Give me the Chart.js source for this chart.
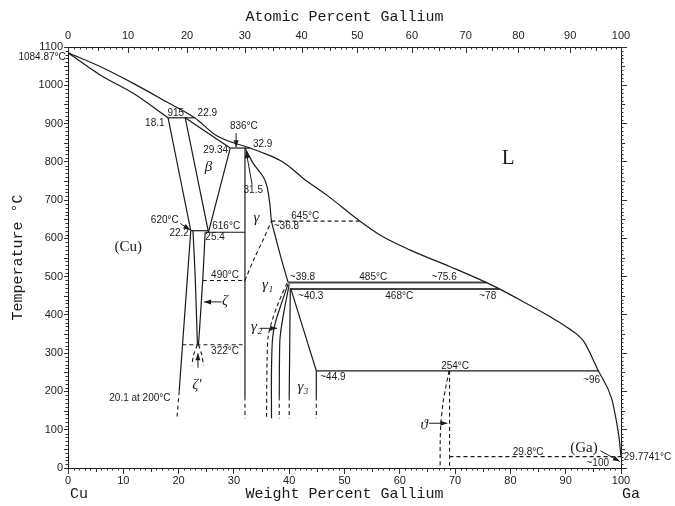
<!DOCTYPE html>
<html>
<head>
<meta charset="utf-8">
<script src="https://cdn.jsdelivr.net/npm/chart.js@4.4.0/dist/chart.umd.min.js"></script>
<style>
  html, body { margin: 0; padding: 0; background: #fff; }
  #wrap { width: 675px; height: 506px; }
</style>
</head>
<body>
<div id="wrap"><canvas id="chart" width="675" height="506"></canvas></div>
<script>
// compositions in wt.% Ga, temperatures in °C
const weightTicks = [0, 10, 20, 30, 40, 50, 60, 70, 80, 90, 100];
const atomicTicks = [0, 10, 20, 30, 40, 50, 60, 70, 80, 90, 100];
const tempTicks = [0, 100, 200, 300, 400, 500, 600, 700, 800, 900, 1000, 1100];

// solid boundaries
const liquidus = [[0,1084.87],[5.8,1049],[11.8,1005],[17.8,957],[22.9,915],[26.9,868],[32.9,836],[35.5,822],[38.3,804],[40.5,782],[42.5,757],[46.8,713],[52.8,645],[56.4,609],[61.8,570],[69.1,526],[75.6,485],[78,468],[82,437],[87.2,395],[90.5,365],[93.2,332],[95.9,254],[98.3,182],[98.9,143],[99.7,73],[100,29.77]];
const cuSolidus = [[0,1084.87],[5.8,1027],[11.8,979],[18.1,915]];
const line915 = [[18.1,915],[22.9,915]];
const cuBetaSolvus = [[18.1,915],[22.2,620]];
const betaLeft = [[21.2,915],[25.4,616]];
const betaSolidus = [[21.2,915],[29.34,836]];
const betaRight = [[29.34,836],[25.4,616]];
const line836 = [[29.34,836],[32.9,836]];
const gammaLeft = [[32,836],[32,186]];
const gammaRight = [[32,836],[33.5,796],[35.3,761],[36.0,735],[36.5,690],[36.8,645],[37.6,600],[38.6,545],[39.8,485]];
const line620 = [[22.2,620],[25.3,620]];
const line616 = [[24.8,616],[32,616]];
const cuSolvus = [[22.2,620],[20.1,200]];
const zetaLeft = [[22.6,620],[23.0,500],[23.4,322]];
const zetaRight = [[24.8,616],[24.4,500],[23.6,322]];
const line485 = [[39.8,485],[75.6,485]];
const line468 = [[40.3,468],[78,468]];
const gamma1Solid = [[39.8,481],[38.6,430],[37.5,380],[37.0,340],[36.8,260],[36.8,130]];
const gamma2Right = [[40.0,480],[39.2,420],[38.6,370],[38.3,330],[38.2,186]];
const gammaVert40 = [[40.2,470],[40.0,186]];
const gamma3Right = [[40.3,468],[44.9,254]];
const gamma3Vert = [[44.9,254],[44.9,186]];
const line254 = [[44.9,254],[96,254]];

// dashed boundaries
const cuSolvusLow = [[20.1,200],[19.7,130]];
const gammaLeftLow = [[32,186],[32,130]];
const line490 = [[24.4,490],[32,490]];
const gammaOrder = [[32,490],[33.6,545],[35.4,600],[36.8,645]];
const line645 = [[36.8,645],[52.8,645]];
const line322 = [[20.7,322],[32,322]];
const zetaPrimeL = [[23.4,322],[22.7,295],[22.4,268]];
const zetaPrimeR = [[23.6,322],[24.2,295],[24.5,268]];
const gamma12Dash = [[39.6,483],[38.0,430],[36.8,380],[36.2,343],[36.0,280],[35.9,130]];
const gamma2Low = [[38.2,186],[38.2,130]];
const vert40Low = [[40.0,186],[40.0,130]];
const gamma3Low = [[44.9,186],[44.9,130]];
const thetaLeft = [[68.9,254],[68.3,210],[67.8,169],[67.4,110],[67.3,60],[67.3,0]];
const thetaRight = [[69,254],[69,0]];
const line298 = [[69,29.8],[100,29.8]];

const smoothLines = [liquidus, cuSolidus];
const solidLines = [line915, cuBetaSolvus, betaLeft, betaSolidus, betaRight, line836,
  gammaLeft, gammaRight, line620, line616, cuSolvus, zetaLeft, zetaRight, gamma1Solid, gamma2Right,
  gammaVert40, gamma3Right, gamma3Vert, line254];
const boldLines = [line485, line468];
const dashedLines = [cuSolvusLow, gammaLeftLow, line490, gammaOrder, line645, line322, zetaPrimeL, zetaPrimeR,
  gamma12Dash, gamma2Low, vert40Low, gamma3Low, thetaLeft, thetaRight, line298];

// text notes: text, wt.%, °C, kind
const notes = [
  ['1084.87°C', -0.4, 1074, 'numR'],
  ['915', 19.5, 927, 'num'], ['22.9', 25.2, 927, 'num'], ['18.1', 15.7, 901, 'num'],
  ['836°C', 31.8, 892, 'num'], ['29.34', 26.7, 829, 'num'], ['32.9', 35.2, 847, 'num'],
  ['31.5', 33.5, 726, 'num'], ['645°C', 42.9, 657, 'num'], ['~36.8', 39.5, 631, 'num'],
  ['620°C', 17.5, 648, 'num'], ['22.2', 20.1, 613, 'num'], ['616°C', 28.6, 631, 'num'],
  ['25.4', 26.6, 604, 'num'], ['490°C', 28.4, 504, 'num'], ['~39.8', 42.4, 498, 'num'],
  ['485°C', 55.2, 498, 'num'], ['~75.6', 68.0, 498, 'num'], ['~40.3', 43.9, 448, 'num'],
  ['468°C', 59.9, 449, 'num'], ['~78', 75.9, 449, 'num'], ['322°C', 28.4, 306, 'num'],
  ['20.1 at 200°C', 13.0, 182, 'num'], ['~44.9', 47.9, 237, 'num'], ['254°C', 70.0, 266, 'num'],
  ['~96', 94.7, 230, 'num'], ['29.8°C', 83.2, 40, 'num'], ['~100', 95.8, 12, 'num'],
  ['29.7741°C', 100.5, 29, 'numL'],
  ['β', 25.4, 787, 'greek'], ['γ', 34.1, 652, 'greek'], ['γ₁', 36.1, 478, 'greek'],
  ['ζ', 28.4, 435, 'greek'], ['γ₂', 34.1, 369, 'greek'], ["ζ'", 23.3, 217, 'greek'],
  ['γ₃', 42.5, 212, 'greek'], ['ϑ', 64.4, 112, 'greek'],
  ['(Cu)', 10.9, 578, 'phase'], ['(Ga)', 93.3, 51, 'phase'], ['L', 79.6, 810, 'big']
];

// arrows: from (wt, °C) to (wt, °C)
const arrows = [
  [30.4, 875, 30.4, 838], [33.3, 740, 32.2, 828], [20.3, 639, 22.1, 622],
  [27.8, 434, 24.6, 434], [23.5, 262, 23.5, 300], [34.8, 365, 37.8, 365],
  [65.3, 117, 68.6, 117], [96.3, 45, 99.8, 17]
];

const atToWt = a => 100 * a * 69.723 / (a * 69.723 + (100 - a) * 63.546);

const ink = '#1a1a1a';
const toPoints = pts => pts.map(p => ({ x: p[0], y: p[1] }));
const datasets = [];
smoothLines.forEach(pts => datasets.push({ data: toPoints(pts), borderWidth: 1.2, cubicInterpolationMode: 'monotone' }));
solidLines.forEach(pts => datasets.push({ data: toPoints(pts), borderWidth: 1.2, tension: 0.3 }));
boldLines.forEach(pts => datasets.push({ data: toPoints(pts), borderWidth: 2, borderColor: '#444', tension: 0 }));
dashedLines.forEach(pts => datasets.push({ data: toPoints(pts), borderWidth: 1.1, borderDash: [4, 3], tension: 0.3 }));
datasets.forEach(d => {
  d.showLine = true;
  d.pointRadius = 0;
  d.borderColor = d.borderColor || ink;
  d.xAxisID = 'x';
  d.yAxisID = 'y';
});

const tickMarks = {
  id: 'tickMarks',
  afterDraw(chart) {
    const { ctx, chartArea: a, scales } = chart;
    const x = scales.x, y = scales.y;
    ctx.save();
    ctx.strokeStyle = '#333';
    ctx.lineWidth = 1;
    ctx.beginPath();
    for (let v = 0; v <= 100; v++) {
      if (v % 10 === 0) continue;
      const px = Math.round(x.getPixelForValue(v)) + 0.5;
      const len = v % 5 === 0 ? 4 : 2.5;
      ctx.moveTo(px, a.bottom); ctx.lineTo(px, a.bottom + len);
    }
    for (let at = 0; at <= 100; at++) {
      const px = Math.round(x.getPixelForValue(atToWt(at))) + 0.5;
      const len = at % 10 === 0 ? 6 : (at % 5 === 0 ? 4 : 2.5);
      ctx.moveTo(px, a.top); ctx.lineTo(px, a.top + len);
    }
    for (let t = 10; t < 1100; t += 10) {
      if (t % 100 === 0) continue;
      const py = Math.round(y.getPixelForValue(t)) + 0.5;
      const len = t % 50 === 0 ? 4 : 2.5;
      ctx.moveTo(a.left, py); ctx.lineTo(a.left - len, py);
      ctx.moveTo(a.right, py); ctx.lineTo(a.right + len, py);
    }
    ctx.stroke();
    ctx.restore();
  }
};

const annotations = {
  id: 'annotations',
  afterDatasetsDraw(chart) {
    const { ctx, scales } = chart;
    const x = scales.x, y = scales.y;
    ctx.save();
    ctx.fillStyle = ink;
    ctx.strokeStyle = ink;
    ctx.textBaseline = 'middle';
    notes.forEach(([text, wx, t, kind]) => {
      let font = '10px "Liberation Sans"', align = 'center';
      if (kind === 'numR') align = 'right';
      if (kind === 'numL') align = 'left';
      if (kind === 'greek') font = 'italic 15px "Liberation Serif"';
      if (kind === 'phase') font = '15px "Liberation Serif"';
      if (kind === 'big') font = '21px "Liberation Serif"';
      ctx.font = font;
      ctx.textAlign = align;
      ctx.fillText(text, x.getPixelForValue(wx), y.getPixelForValue(t));
    });
    ctx.lineWidth = 1;
    arrows.forEach(([x1, t1, x2, t2]) => {
      const ax = x.getPixelForValue(x1), ay = y.getPixelForValue(t1);
      const bx = x.getPixelForValue(x2), by = y.getPixelForValue(t2);
      const ang = Math.atan2(by - ay, bx - ax);
      ctx.beginPath();
      ctx.moveTo(ax, ay); ctx.lineTo(bx, by);
      ctx.stroke();
      ctx.beginPath();
      ctx.moveTo(bx, by);
      ctx.lineTo(bx - 7 * Math.cos(ang) + 2.5 * Math.sin(ang), by - 7 * Math.sin(ang) - 2.5 * Math.cos(ang));
      ctx.lineTo(bx - 7 * Math.cos(ang) - 2.5 * Math.sin(ang), by - 7 * Math.sin(ang) + 2.5 * Math.cos(ang));
      ctx.closePath();
      ctx.fill();
    });
    // element symbols under the axis ends
    ctx.font = '15px "Liberation Mono"';
    ctx.textAlign = 'left';
    ctx.fillText('Cu', x.getPixelForValue(0) + 2, 494);
    ctx.fillText('Ga', x.getPixelForValue(100) + 1, 494);
    ctx.restore();
  }
};

const tickFont = { family: 'Liberation Sans', size: 11 };
const titleFont = { family: 'Liberation Mono', size: 15 };

new Chart(document.getElementById('chart'), {
  type: 'scatter',
  data: { datasets },
  options: {
    responsive: false,
    animation: false,
    events: [],
    layout: { padding: 0 },
    plugins: { legend: { display: false }, tooltip: { enabled: false } },
    scales: {
      x: {
        type: 'linear', position: 'bottom', min: 0, max: 100,
        afterFit: s => { s.height = 38; },
        afterBuildTicks: s => { s.ticks = weightTicks.map(v => ({ value: v })); },
        ticks: { font: tickFont, color: '#222', padding: 0, autoSkip: false, maxRotation: 0,
          callback: (v, i) => String(weightTicks[i]) },
        grid: { drawOnChartArea: false, tickLength: 6, color: '#333' },
        border: { color: ink },
        title: { display: true, text: 'Weight Percent Gallium', font: titleFont, color: ink, padding: { top: 0, bottom: 3 } }
      },
      xTop: {
        type: 'linear', position: 'top', min: 0, max: 100,
        afterFit: s => { s.height = 47; },
        afterBuildTicks: s => { s.ticks = atomicTicks.map(a => ({ value: atToWt(a) })); },
        ticks: { font: tickFont, color: '#222', padding: 4, autoSkip: false, maxRotation: 0,
          callback: (v, i) => String(atomicTicks[i]) },
        grid: { drawOnChartArea: false, drawTicks: false, color: '#333' },
        border: { color: ink },
        title: { display: true, text: 'Atomic Percent Gallium', font: titleFont, color: ink, padding: { top: 8, bottom: 0 } }
      },
      y: {
        type: 'linear', position: 'left', min: 0, max: 1100,
        afterFit: s => { s.width = 68; },
        afterBuildTicks: s => { s.ticks = tempTicks.map(v => ({ value: v })); },
        ticks: { font: tickFont, color: '#222', padding: 1, autoSkip: false,
          callback: (v, i) => String(tempTicks[i]) },
        grid: { drawOnChartArea: false, tickLength: 4, color: '#333' },
        border: { color: ink },
        title: { display: true, text: 'Temperature °C', font: titleFont, color: ink, padding: { top: 9, bottom: 0 } }
      },
      yRight: {
        type: 'linear', position: 'right', min: 0, max: 1100,
        afterFit: s => { s.width = 54; },
        afterBuildTicks: s => { s.ticks = tempTicks.map(v => ({ value: v })); },
        ticks: { display: false },
        grid: { drawOnChartArea: false, tickLength: 6, color: '#333' },
        border: { color: ink }
      }
    }
  },
  plugins: [tickMarks, annotations]
});
</script>
</body>
</html>
